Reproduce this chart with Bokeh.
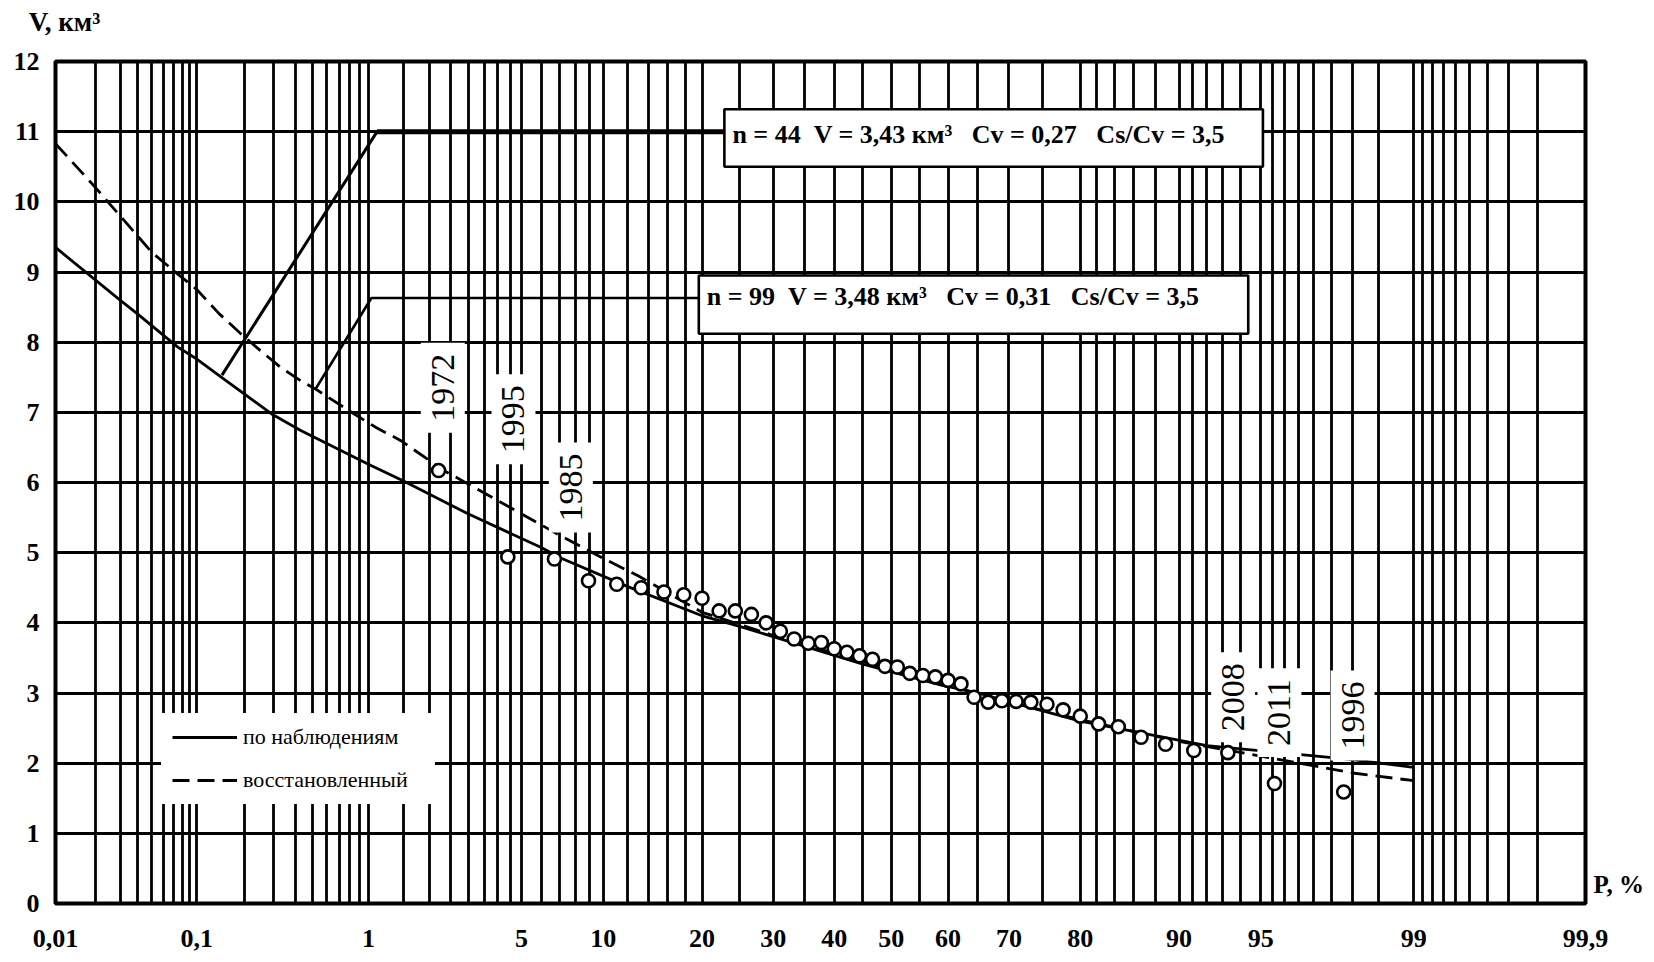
from statistics import NormalDist
from bokeh.plotting import figure
from bokeh.models import (Range1d, FixedTicker, CustomJSTickFormatter, Label,
                          BoxAnnotation, Legend, LegendItem, ColumnDataSource,
                          LinearAxis)
from bokeh.embed import file_html
from bokeh.resources import INLINE

# ---------------- data ----------------
tick_P = [0.01, 0.1, 1, 5, 10, 20, 30, 40, 50, 60, 70, 80, 90, 95, 99, 99.9]
tick_labels = ["0,01", "0,1", "1", "5", "10", "20", "30", "40", "50", "60",
               "70", "80", "90", "95", "99", "99,9"]

grid_P = [0.01, 0.02, 0.03, 0.04, 0.05, 0.06, 0.07, 0.08, 0.09,
          0.1, 0.2, 0.3, 0.4, 0.5, 0.6, 0.7, 0.8, 0.9,
          1, 1.5, 2, 2.5, 3, 3.5, 4, 4.5, 5, 6, 7, 8, 9, 10,
          12, 14, 16, 18, 20, 25, 30, 35, 40, 45, 50, 55, 60, 65, 70, 75, 80,
          82, 84, 86, 88, 90, 91, 92, 93, 94, 95, 95.5, 96, 96.5, 97, 97.5,
          98, 98.5, 99, 99.1, 99.2, 99.3, 99.4, 99.5, 99.6, 99.7, 99.8, 99.9]

y_ticks = [0, 1, 2, 3, 4, 5, 6, 7, 8, 9, 10, 11, 12]

# curve "по наблюдениям" (solid)
obs_P = [0.01, 0.03, 0.04, 0.075, 0.1, 0.15, 0.29, 0.43, 1, 1.5, 3, 6, 7, 12,
         20, 25, 45, 59, 65, 80, 92, 98, 99]
obs_V = [9.35, 8.6, 8.4, 7.93, 7.76, 7.47, 6.98, 6.74, 6.26, 6.02, 5.55, 5.07,
         4.93, 4.52, 4.1, 3.95, 3.41, 3.11, 3.0, 2.6, 2.25, 2.05, 1.94]

# curve "восстановленный" (dashed)
rec_P = [0.01, 0.02, 0.037, 0.05, 0.075, 0.1, 0.14, 0.19, 0.25, 0.33, 0.43,
         0.53, 0.65, 0.84, 1.1, 1.45, 2.3, 7, 10, 13, 20, 30, 50, 70, 80, 90,
         95, 98, 99]
rec_V = [10.83, 10.2, 9.59, 9.28, 8.97, 8.75, 8.4, 8.12, 7.88, 7.64, 7.45,
         7.32, 7.17, 6.98, 6.78, 6.6, 6.18, 5.25, 4.92, 4.67, 4.15, 3.82, 3.33,
         2.87, 2.62, 2.31, 2.1, 1.86, 1.75]

# empirical points
pts_P = [2.2, 4.4, 6.7, 8.9, 11.1, 13.3, 15.6, 17.8, 20.0, 22.2, 24.4, 26.7,
         28.9, 31.1, 33.3, 35.6, 37.8, 40.0, 42.2, 44.4, 46.7, 48.9, 51.1, 53.3,
         55.6, 57.8, 60.0, 62.2, 64.4, 66.7, 68.9, 71.1, 73.3, 75.6, 77.8, 80.0,
         82.2, 84.4, 86.7, 88.9, 91.1, 93.3, 95.6, 97.8]
pts_V = [6.17, 4.94, 4.91, 4.60, 4.55, 4.50, 4.44, 4.40, 4.35, 4.17, 4.17, 4.12,
         4.00, 3.88, 3.77, 3.71, 3.72, 3.63, 3.58, 3.53, 3.48, 3.38, 3.37, 3.28,
         3.25, 3.23, 3.18, 3.13, 2.94, 2.87, 2.89, 2.88, 2.87, 2.84, 2.76, 2.67,
         2.56, 2.52, 2.37, 2.27, 2.18, 2.15, 1.71, 1.59]

# year labels
years = ["1972", "1995", "1985", "2008", "2011", "1996"]
year_P = [2.3, 4.64, 7.7, 93.6, 95.8, 98.0]
year_V = [7.35, 6.9, 5.93, 2.94, 2.72, 2.68]

# parameter boxes
box_texts = ["n = 44 \u00a0V = 3,43 км³ \u00a0 Cv = 0,27 \u00a0 Cs/Cv = 3,5",
             "n = 99 \u00a0V = 3,48 км³ \u00a0 Cv = 0,31 \u00a0 Cs/Cv = 3,5"]
box_P = [(22.9, 95.1), (19.6, 94.4)]
box_V = [(10.5, 11.32), (8.12, 8.95)]
box_text_V = [10.96, 8.65]
lead1_P = [0.145, 1.107, 22.9]
lead1_V = [7.53, 11.0, 11.0]
lead2_P = [0.523, 1.036, 19.6]
lead2_V = [7.34, 8.63, 8.63]

x_title = "P, %"
y_title = "V, км³"
x_title_at_V = 0.27      # height of "P, %" beside the right edge
y_title_at_P = 0.0117    # horizontal centre of "V, км³" above the top edge

# ---------------- plotting ----------------
nd = NormalDist()


def zq(p):
    return nd.inv_cdf(p / 100.0)


FONT = "Liberation Serif"

p = figure(frame_width=1530, frame_height=842,
           x_range=Range1d(zq(0.01), zq(99.9)), y_range=Range1d(0, 12),
           output_backend="svg", toolbar_location=None,
           min_border_left=55, min_border_top=61, min_border_right=62,
           min_border_bottom=56,
           background_fill_color="white", border_fill_color="white")

p.outline_line_color = "black"
p.outline_line_width = 4

# grids
p.xgrid.ticker = FixedTicker(ticks=[zq(v) for v in grid_P])
p.xgrid.grid_line_color = "black"
p.xgrid.grid_line_width = 2.8
p.ygrid.ticker = FixedTicker(ticks=y_ticks)
p.ygrid.grid_line_color = "black"
p.ygrid.grid_line_width = 3

# axes
xa = p.xaxis[0]
xa.ticker = FixedTicker(ticks=[zq(v) for v in tick_P])
xa.formatter = CustomJSTickFormatter(
    args=dict(zs=[zq(v) for v in tick_P], labs=tick_labels),
    code="""
    let best = 0, bd = 1e9;
    for (let i = 0; i < zs.length; i++) {
        const d = Math.abs(zs[i] - tick);
        if (d < bd) { bd = d; best = i; }
    }
    return labs[best];
    """)
ya = p.yaxis[0]
ya.ticker = FixedTicker(ticks=y_ticks)

# right-hand axis carrying the x-axis name "P, %" beside the frame
ra = LinearAxis(ticker=FixedTicker(ticks=[x_title_at_V]),
                formatter=CustomJSTickFormatter(args=dict(t=x_title),
                                                code="return t;"))
p.add_layout(ra, "right")

# top axis carrying the y-axis name "V, км³" above the top-left corner
ta = LinearAxis(ticker=FixedTicker(ticks=[zq(y_title_at_P)]),
                formatter=CustomJSTickFormatter(args=dict(t=y_title),
                                                code="return t;"))
p.add_layout(ta, "above")

for ax in (xa, ya, ra, ta):
    ax.axis_line_color = None
    ax.major_tick_line_color = None
    ax.minor_tick_line_color = None
    ax.major_tick_in = 0
    ax.major_tick_out = 0
    ax.major_label_text_font = FONT
    ax.major_label_text_font_style = "bold"
    ax.major_label_text_font_size = "26px"
    ax.major_label_text_color = "black"
xa.major_label_standoff = 26
ya.major_label_standoff = 16
ra.major_label_standoff = 8
ra.major_label_text_font_size = "25px"
ta.major_label_standoff = 25
ta.major_label_text_font_size = "27px"

# curves
r_obs = p.line([zq(v) for v in obs_P], obs_V, line_color="black", line_width=2.8)
r_rec = p.line([zq(v) for v in rec_P], rec_V, line_color="black", line_width=2.8,
               line_dash="17 8")

# leader lines
p.line([zq(v) for v in lead1_P], lead1_V, line_color="black", line_width=3)
p.line([zq(v) for v in lead1_P[1:]], lead1_V[1:], line_color="black", line_width=5)
p.line([zq(v) for v in lead2_P], lead2_V, line_color="black", line_width=2.6)

# points
src = ColumnDataSource(data=dict(x=[zq(v) for v in pts_P], y=pts_V))
p.scatter("x", "y", source=src, marker="circle", size=13, fill_color="white",
          line_color="black", line_width=2.6)

# parameter boxes
for (pl, pr), (vb, vt), txt, tv in zip(box_P, box_V, box_texts, box_text_V):
    p.add_layout(BoxAnnotation(left=zq(pl), right=zq(pr), bottom=vb, top=vt,
                               fill_color="white", fill_alpha=1.0,
                               line_color="black", line_width=2.6, line_alpha=1.0))
    p.add_layout(Label(x=zq(pl), y=tv, x_offset=8, text=txt,
                       text_align="left", text_baseline="middle",
                       text_font=FONT, text_font_style="bold",
                       text_font_size="26px", text_color="black"))

# year labels
for yr, yp, yv in zip(years, year_P, year_V):
    p.add_layout(Label(x=zq(yp), y=yv, text=yr, angle=90, angle_units="deg",
                       text_align="center", text_baseline="middle",
                       text_font=FONT, text_font_size="34px", text_color="black",
                       background_fill_color="white", background_fill_alpha=1.0,
                       padding=11))

# legend
legend = Legend(items=[LegendItem(label="по наблюдениям", renderers=[r_obs]),
                       LegendItem(label="восстановленный", renderers=[r_rec])],
                location=(106, 99), margin=0, padding=11, spacing=17,
                glyph_width=65, glyph_height=22, label_height=22,
                label_width=181, label_standoff=6, label_text_font=FONT,
                label_text_font_size="22px", label_text_color="black",
                border_line_alpha=0, background_fill_color="white",
                background_fill_alpha=1.0)
p.add_layout(legend)

open("out.html", "w").write(file_html(p, INLINE))
